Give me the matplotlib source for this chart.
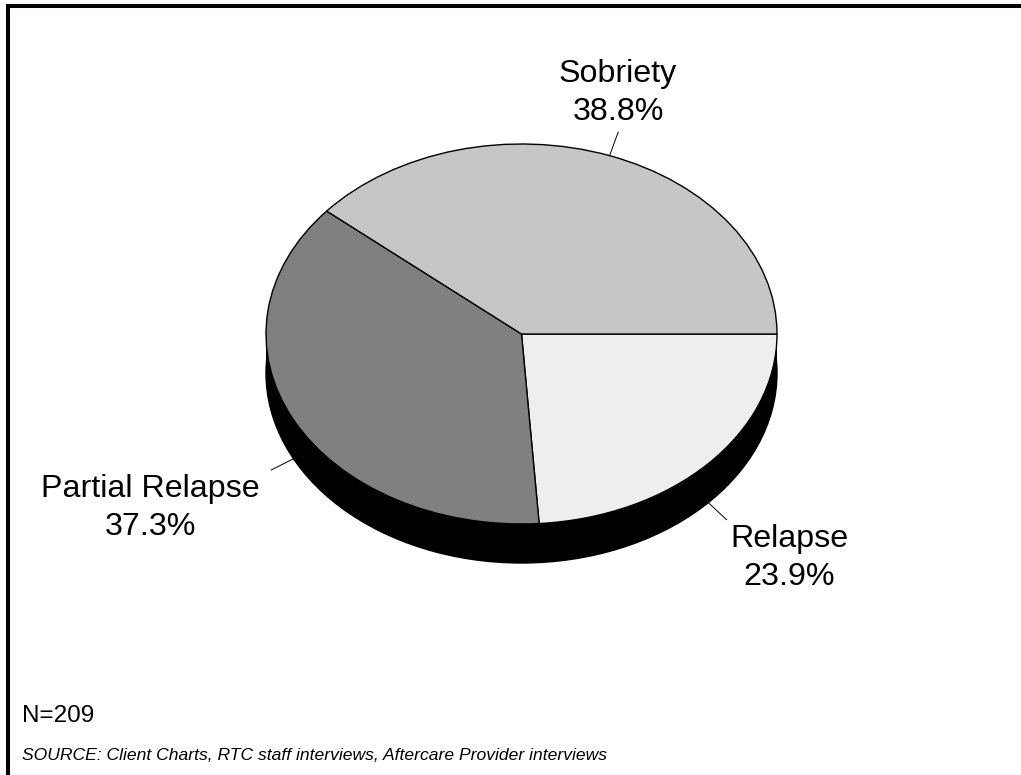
import numpy as np
import matplotlib
matplotlib.use("Agg")
import matplotlib.pyplot as plt
from matplotlib.patches import Ellipse, Rectangle
from matplotlib.lines import Line2D

plt.rcParams['font.family'] = ['Liberation Sans', 'DejaVu Sans']

# Outcome shares (percent), in drawing order starting at 3 o'clock going clockwise
categories = ['Relapse', 'Partial Relapse', 'Sobriety']
shares = [23.9, 37.3, 38.8]
colors = ['#eeeeee', '#808080', '#c6c6c6']
sample_note = 'N=209'
source_note = 'SOURCE: Client Charts, RTC staff interviews, Aftercare Provider interviews'

W, H = 1021, 775
cx, cy = 521.5, 334.0      # pie centre (pixels from top-left)
rx, ry = 255.5, 190.0      # ellipse semi-axes in pixels
depth = 39.0               # height of the pie's side in pixels
leader_len = 25.0

fig = plt.figure(figsize=(W / 100, H / 100), dpi=100)
ax = fig.add_axes([0, 0, 1, 1])

# axis units: 1 unit = rx px horizontally, ry px vertically
d = depth / ry

# black side of the disc
ax.add_patch(Ellipse((0, -d), 2, 2, facecolor='black', edgecolor='black', lw=1, zorder=1))
ax.add_patch(Rectangle((-1, -d), 2, d, facecolor='black', edgecolor='none', zorder=1))

wedges, _ = ax.pie(shares, colors=colors, startangle=0, counterclock=False,
                   radius=1, center=(0, 0),
                   wedgeprops=dict(edgecolor='black', linewidth=1))
for w in wedges:
    w.set_zorder(2)

ax.set_aspect('auto')
ax.set_xlim(-cx / rx, (W - cx) / rx)
ax.set_ylim(-(H - cy) / ry, cy / ry)
ax.axis('off')

# leader lines from the middle of each wedge's rim
label_pos = {'Sobriety': (618, 93), 'Partial Relapse': (150, 508), 'Relapse': (789, 558)}
for w, name, val in zip(wedges, categories, shares):
    mid = np.deg2rad((w.theta1 + w.theta2) / 2)
    x0, y0 = np.cos(mid), np.sin(mid)
    if y0 < 0:
        y0 -= d
    x1 = x0 + leader_len * np.cos(mid) / rx
    y1 = y0 + leader_len * np.sin(mid) / ry
    ax.plot([x0, x1], [y0, y1], color='black', lw=0.7, zorder=3)
    px, py = label_pos[name]
    fig.text(px / W, 1 - py / H, f'{name}\n{val:.1f}%', ha='center', va='center',
             fontsize=23.2, linespacing=1.32, color='black')

fig.text(22 / W, 1 - 716 / H, sample_note, ha='left', va='center', fontsize=17.5)
fig.text(22 / W, 1 - 756 / H, source_note, ha='left', va='center', fontsize=12.6,
         style='italic')

# frame: top and left rules
fig.add_artist(Line2D([6 / W, 1], [1 - 6 / H, 1 - 6 / H], color='black', lw=2.9,
                      transform=fig.transFigure, solid_capstyle='butt'))
fig.add_artist(Line2D([8 / W, 8 / W], [0, 1 - 4 / H], color='black', lw=2.9,
                      transform=fig.transFigure, solid_capstyle='butt'))

fig.savefig('out.png', dpi=100, facecolor='white')
